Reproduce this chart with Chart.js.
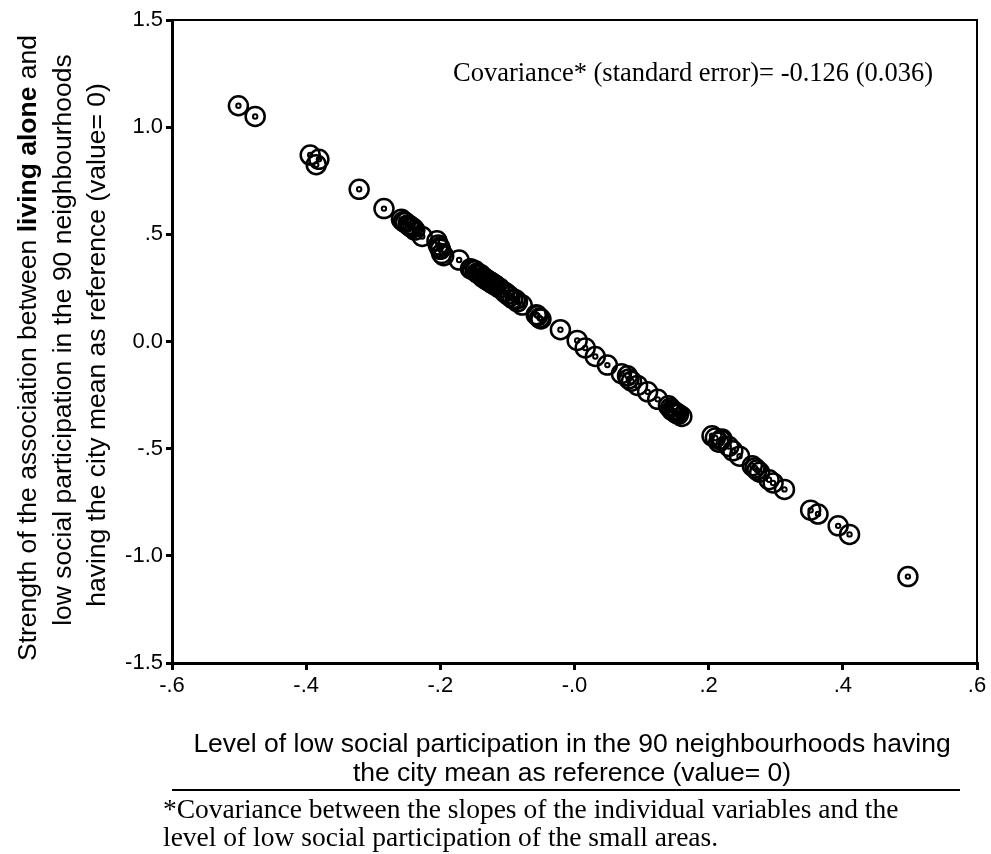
<!DOCTYPE html>
<html>
<head>
<meta charset="utf-8">
<script src="https://cdn.jsdelivr.net/npm/chart.js@4"></script>
<style>
  body { margin: 0; background: #fff; }
  #wrap { width: 991px; height: 854px; }
</style>
</head>
<body>
<div id="wrap"><canvas id="scatterChart" width="991" height="854"></canvas></div>
<script>
// values (level of low participation, slope strength)
const participation = [
  -0.501, -0.476, -0.394, -0.385, -0.381, -0.321, -0.284, -0.258, -0.255, -0.252,
  -0.248, -0.246, -0.244, -0.241, -0.238, -0.227, -0.205, -0.203, -0.201, -0.200,
  -0.198, -0.195, -0.172, -0.155, -0.152, -0.148, -0.145, -0.142, -0.139, -0.137,
  -0.134, -0.132, -0.129, -0.127, -0.124, -0.122, -0.119, -0.117, -0.112, -0.104,
  -0.100, -0.096, -0.092, -0.088, -0.085, -0.078, -0.057, -0.055, -0.052, -0.050,
  -0.021, 0.004, 0.016, 0.031, 0.049, 0.070, 0.079, 0.081, 0.085, 0.094,
  0.109, 0.124, 0.140, 0.143, 0.145, 0.148, 0.150, 0.152, 0.155, 0.160,
  0.205, 0.210, 0.215, 0.218, 0.220, 0.230, 0.236, 0.246, 0.265, 0.269,
  0.272, 0.276, 0.290, 0.296, 0.313, 0.352, 0.363, 0.393, 0.410, 0.497
];
const livingAlone = [
  1.10, 1.05, 0.87, 0.825, 0.85, 0.71, 0.62, 0.57, 0.56, 0.555,
  0.545, 0.54, 0.535, 0.53, 0.52, 0.49, 0.47, 0.45, 0.44, 0.43,
  0.41, 0.40, 0.38, 0.34, 0.335, 0.33, 0.32, 0.315, 0.31, 0.30,
  0.295, 0.29, 0.285, 0.28, 0.275, 0.27, 0.265, 0.26, 0.25, 0.23,
  0.22, 0.21, 0.20, 0.195, 0.185, 0.17, 0.125, 0.12, 0.11, 0.105,
  0.055, 0.005, -0.03, -0.07, -0.11, -0.15, -0.16, -0.175, -0.185, -0.205,
  -0.235, -0.27, -0.30, -0.31, -0.32, -0.325, -0.33, -0.335, -0.34, -0.35,
  -0.44, -0.45, -0.47, -0.46, -0.455, -0.49, -0.51, -0.535, -0.58, -0.59,
  -0.60, -0.61, -0.645, -0.66, -0.69, -0.787, -0.805, -0.86, -0.90, -1.097
];
const xTickLabels = ['-.6', '-.4', '-.2', '-.0', '.2', '.4', '.6'];
const yTickLabels = ['-1.5', '-1.0', '-.5', '0.0', '.5', '1.0', '1.5'];

const points = participation.map((x, i) => ({ x: x, y: livingAlone[i] }));

const sans = '"Liberation Sans", Arial, sans-serif';
const serif = '"Liberation Serif", "Times New Roman", serif';

// texts around the plot drawn on the canvas
const textPlugin = {
    id: 'texts',
    afterDraw(chart) {
        const ctx = chart.ctx;
        const a = chart.chartArea;
        ctx.save();
        ctx.strokeStyle = '#000';
        ctx.fillStyle = '#000';

        // frame top and right
        ctx.lineWidth = 2;
        ctx.beginPath();
        ctx.moveTo(a.left, a.top);
        ctx.lineTo(a.right, a.top);
        ctx.lineTo(a.right, a.bottom);
        ctx.stroke();

        ctx.textBaseline = 'middle';
        ctx.font = '26.5px ' + serif;
        ctx.textAlign = 'left';
        ctx.fillText('Covariance* (standard error)= -0.126 (0.036)', 453, 74);

        ctx.font = '26.5px ' + sans;
        ctx.textAlign = 'center';
        ctx.fillText('Level of low social participation in the 90 neighbourhoods having', 572, 745);
        ctx.fillText('the city mean as reference (value= 0)', 572, 774);

        ctx.lineWidth = 2;
        ctx.beginPath();
        ctx.moveTo(172, 790);
        ctx.lineTo(960, 790);
        ctx.stroke();

        ctx.font = '27.5px ' + serif;
        ctx.textAlign = 'left';
        ctx.fillText('*Covariance between the slopes of the individual variables and the', 163, 811);
        ctx.fillText('level of low social participation of the small areas.', 163, 839);

        // rotated y title, first line with a bold part
        ctx.rotate(-Math.PI / 2);
        const cy = -348;
        const fs = '26.5px ';
        const parts = [
            ['Strength of the association between ', false],
            ['living alone', true],
            [' and', false]
        ];
        let total = 0;
        parts.forEach(p => {
            ctx.font = (p[1] ? 'bold ' : '') + fs + sans;
            total += ctx.measureText(p[0]).width;
        });
        let pos = cy - total / 2;
        ctx.textAlign = 'left';
        parts.forEach(p => {
            ctx.font = (p[1] ? 'bold ' : '') + fs + sans;
            ctx.fillText(p[0], pos, 29);
            pos += ctx.measureText(p[0]).width;
        });
        ctx.font = fs + sans;
        ctx.textAlign = 'center';
        ctx.fillText('low social participation in the 90 neighbourhoods', -340, 64);
        ctx.fillText('having the city mean as reference (value= 0)', -345, 98);
        ctx.restore();
    }
};

new Chart(document.getElementById('scatterChart').getContext('2d'), {
    type: 'scatter',
    data: {
        datasets: [
            {
                data: points,
                pointStyle: 'circle',
                pointRadius: 9.5,
                pointHoverRadius: 9.5,
                backgroundColor: 'transparent',
                borderColor: '#000',
                borderWidth: 2.5
            },
            {
                data: points,
                pointStyle: 'circle',
                pointRadius: 2.2,
                pointHoverRadius: 2.2,
                backgroundColor: 'transparent',
                borderColor: '#000',
                borderWidth: 2
            }
        ]
    },
    options: {
        responsive: false,
        animation: false,
        devicePixelRatio: 1,
        layout: { padding: { top: 20, right: 14, bottom: 0, left: 0 } },
        plugins: {
            legend: { display: false },
            tooltip: { enabled: false }
        },
        scales: {
            x: {
                type: 'linear',
                min: -0.6,
                max: 0.6,
                afterFit(s) { s.height = 191; },
                ticks: {
                    stepSize: 0.2,
                    color: '#000',
                    font: { family: sans, size: 22 },
                    padding: 3,
                    maxRotation: 0,
                    callback: (v, i) => xTickLabels[i]
                },
                grid: { drawOnChartArea: false, color: '#000', lineWidth: 3, tickLength: 7 },
                border: { color: '#000', width: 3 }
            },
            y: {
                type: 'linear',
                min: -1.5,
                max: 1.5,
                afterFit(s) { s.width = 172; },
                ticks: {
                    stepSize: 0.5,
                    color: '#000',
                    font: { family: sans, size: 22 },
                    padding: 3,
                    callback: (v, i) => yTickLabels[i]
                },
                grid: { drawOnChartArea: false, color: '#000', lineWidth: 3, tickLength: 6 },
                border: { color: '#000', width: 3 }
            }
        }
    },
    plugins: [textPlugin]
});
</script>
</body>
</html>
